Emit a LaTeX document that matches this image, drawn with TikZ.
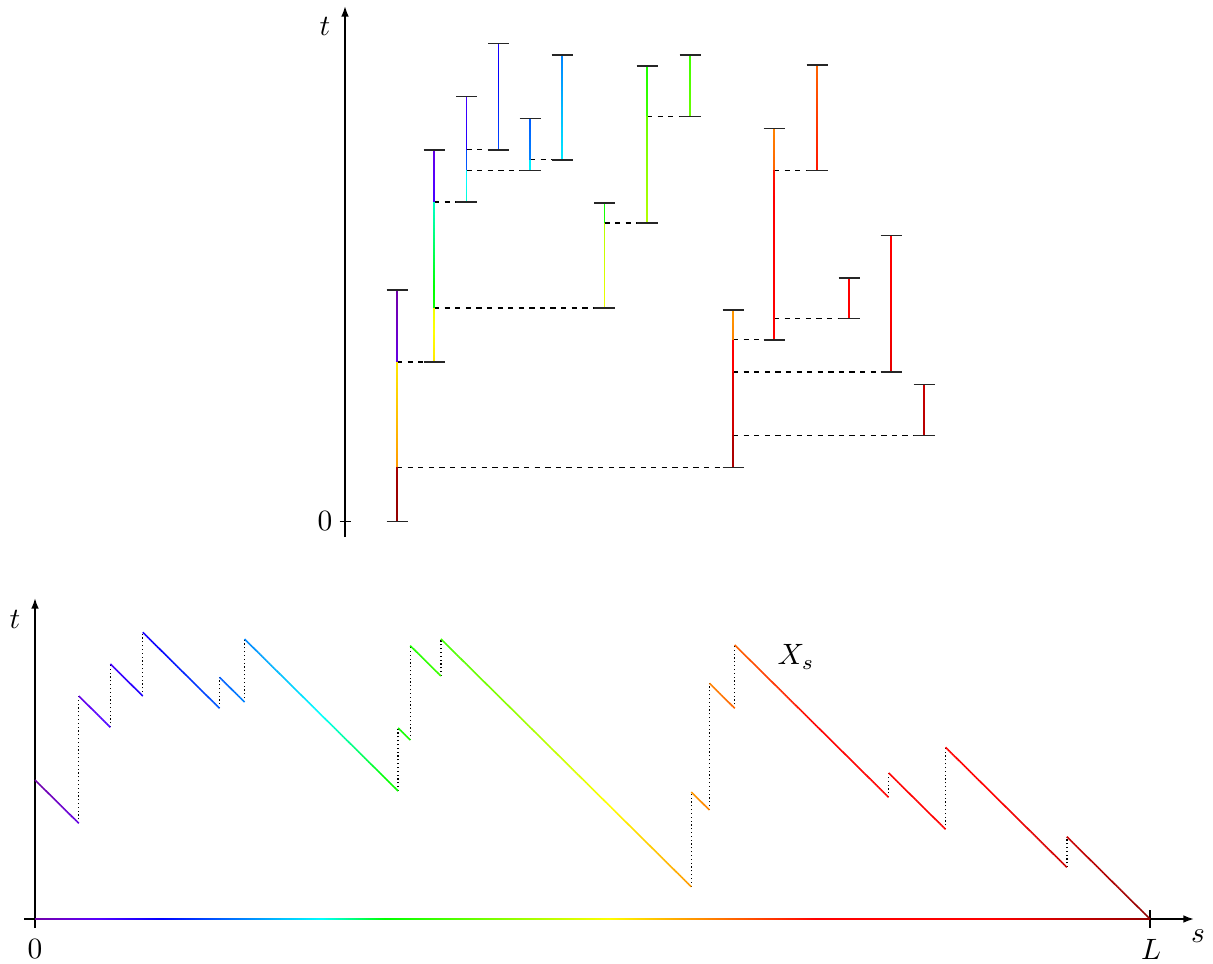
\documentclass[tikz,border=0pt]{standalone}
\usetikzlibrary{arrows.meta}
\newcommand\Ltot{1103.2}
\newcommand\kx{1.0107}
\newcommand\lamk{0.158629}
\tikzset{
  axis/.style={line width=0.6pt, black},
  capline/.style={line width=0.5pt, black!85},
  branch/.style={line width=0.45pt, black, dash pattern=on 1.8pt off 1.8pt},
  jump/.style={line width=0.45pt, black, dash pattern=on 0.4pt off 0.9pt},
  contour/.style={line width=0.55pt},
  tip/.style={-{Latex[length=3.6pt,width=2.6pt]}},
}
% one piece of the contour: s0, s1, height at s0, x of the lifetime in the tree
\newcommand\piece[4]{%
  \pgfmathsetmacro\plen{#2-#1}%
  \pgfmathtruncatemacro\pn{max(1,round(\plen/2))}%
  \foreach \i in {1,...,\pn}{%
    \pgfmathsetmacro\sa{#1+(\i-1)/\pn*\plen}%
    \pgfmathsetmacro\sbb{#1+\i/\pn*\plen}%
    \pgfmathsetmacro\lam{400+\lamk*(\sa+\sbb)}%
    \definecolor{cc}{wave}{\lam}%
    \draw[contour,cc] ({35+\kx*\sa},{919-#3+\sa-#1}) -- ({35+\kx*\sbb},{919-#3+\sbb-#1});
    \fill[cc] ({#4-0.95},{521.5-(#3-\sa+#1)/0.6-0.2}) rectangle ({#4+0.95},{521.5-(#3-\sbb+#1)/0.6+0.2});
  }%
}
% lifetime caps: x, birth, death
\newcommand\indiv[3]{%
  \draw[capline] ({#1-10.5},{521.5-#2/0.6}) -- ({#1+10.5},{521.5-#2/0.6});
  \draw[capline] ({#1-10.5},{521.5-#3/0.6}) -- ({#1+10.5},{521.5-#3/0.6});
}
% birth link: parent x, child x, birth height
\newcommand\birth[3]{%
  \draw[branch] (#1,{521.5-#3/0.6}) -- (#2,{521.5-#3/0.6});
}
% jump of the contour: s, low, high
\newcommand\jmp[3]{%
  \draw[jump] ({35+\kx*#1},{919-#2}) -- ({35+\kx*#1},{919-#3});
}
\begin{document}
\begin{tikzpicture}[x=0.34pt,y=-0.34pt]
\useasboundingbox (0,0) rectangle (1213,963);
% ---------- top: the tree ----------
\draw[axis,tip] (345,537) -- (345,6);
\draw[axis] (339.5,521.5) -- (350.5,521.5);
\node (zeroTop) at (325,521.5) {$0$};
\node (tTop) at (325,26) {$t$};
% birth links
\birth{397}{434}{95.7}
\birth{434}{466.5}{191.7}
\birth{466.5}{498.5}{223}
\birth{466.5}{530}{210.7}
\birth{530}{562}{217}
\birth{434}{604.5}{128}
\birth{604.5}{647}{179}
\birth{647}{690}{243}
\birth{397}{733}{32.3}
\birth{733}{774}{109}
\birth{774}{817}{210.7}
\birth{774}{849}{121.7}
\birth{733}{891}{89.7}
\birth{733}{924}{51.7}
% ---------- bottom: axes ----------
\draw[axis,tip] (24,919) -- (1194,919);
\draw[axis,tip] (35,928) -- (35,598);
\draw[axis] (1150,910) -- (1150,928);
\node (zeroBot) at (35,949) {$0$};
\node (Llab) at (1151,949) {$L$};
\node (slab) at (1198,936) {$s$};
\node (tBot) at (15,619) {$t$};
\node (Xlab) at (796,657) {$X_s$};
% coloured s axis
\pgfmathtruncatemacro\an{round(\Ltot/2)}
\foreach \i in {1,...,\an}{%
  \pgfmathsetmacro\sa{(\i-1)/\an*\Ltot}%
  \pgfmathsetmacro\sbb{\i/\an*\Ltot}%
  \pgfmathsetmacro\lam{400+\lamk*(\sa+\sbb)}%
  \definecolor{cc}{wave}{\lam}%
  \draw[contour,cc] ({35+\kx*\sa},919) -- ({35+\kx*\sbb},919);
}
% jumps
\jmp{43.3}{95.7}{223}
\jmp{74.6}{191.7}{255}
\jmp{106.6}{223}{286.7}
\jmp{182.6}{210.7}{241.7}
\jmp{207.3}{217}{280}
\jmp{359.3}{128}{191}
\jmp{371.3}{179}{273.3}
\jmp{401.6}{243}{280}
\jmp{649.3}{32.3}{127}
\jmp{667.3}{109}{235.7}
\jmp{692.3}{210.7}{274}
\jmp{844.6}{121.7}{146}
\jmp{900.9}{89.7}{171.7}
\jmp{1020.9}{51.7}{82.3}
% contour pieces and matching lifetimes
\piece{0}{43.3}{139}{397}
\piece{43.3}{74.6}{223}{434}
\piece{74.6}{106.6}{255}{466.5}
\piece{106.6}{170.3}{286.7}{498.5}
\piece{170.3}{182.6}{223}{466.5}
\piece{182.6}{207.3}{241.7}{530}
\piece{207.3}{270.3}{280}{562}
\piece{270.3}{276.6}{217}{530}
\piece{276.6}{295.6}{210.7}{466.5}
\piece{295.6}{359.3}{191.7}{434}
\piece{359.3}{371.3}{191}{604.5}
\piece{371.3}{401.6}{273.3}{647}
\piece{401.6}{438.6}{280}{690}
\piece{438.6}{502.6}{243}{647}
\piece{502.6}{553.6}{179}{604.5}
\piece{553.6}{585.9}{128}{434}
\piece{585.9}{649.3}{95.7}{397}
\piece{649.3}{667.3}{127}{733}
\piece{667.3}{692.3}{235.7}{774}
\piece{692.3}{755.6}{274}{817}
\piece{755.6}{844.6}{210.7}{774}
\piece{844.6}{868.9}{146}{849}
\piece{868.9}{881.6}{121.7}{774}
\piece{881.6}{900.9}{109}{733}
\piece{900.9}{982.9}{171.7}{891}
\piece{982.9}{1020.9}{89.7}{733}
\piece{1020.9}{1051.5}{82.3}{924}
\piece{1051.5}{1070.9}{51.7}{733}
\piece{1070.9}{1103.2}{32.3}{397}
% caps
\indiv{397}{0}{139}
\indiv{434}{95.7}{223}
\indiv{466.5}{191.7}{255}
\indiv{498.5}{223}{286.7}
\indiv{530}{210.7}{241.7}
\indiv{562}{217}{280}
\indiv{604.5}{128}{191}
\indiv{647}{179}{273.3}
\indiv{690}{243}{280}
\indiv{733}{32.3}{127}
\indiv{774}{109}{235.7}
\indiv{817}{210.7}{274}
\indiv{849}{121.7}{146}
\indiv{891}{89.7}{171.7}
\indiv{924}{51.7}{82.3}
\end{tikzpicture}
\end{document}
